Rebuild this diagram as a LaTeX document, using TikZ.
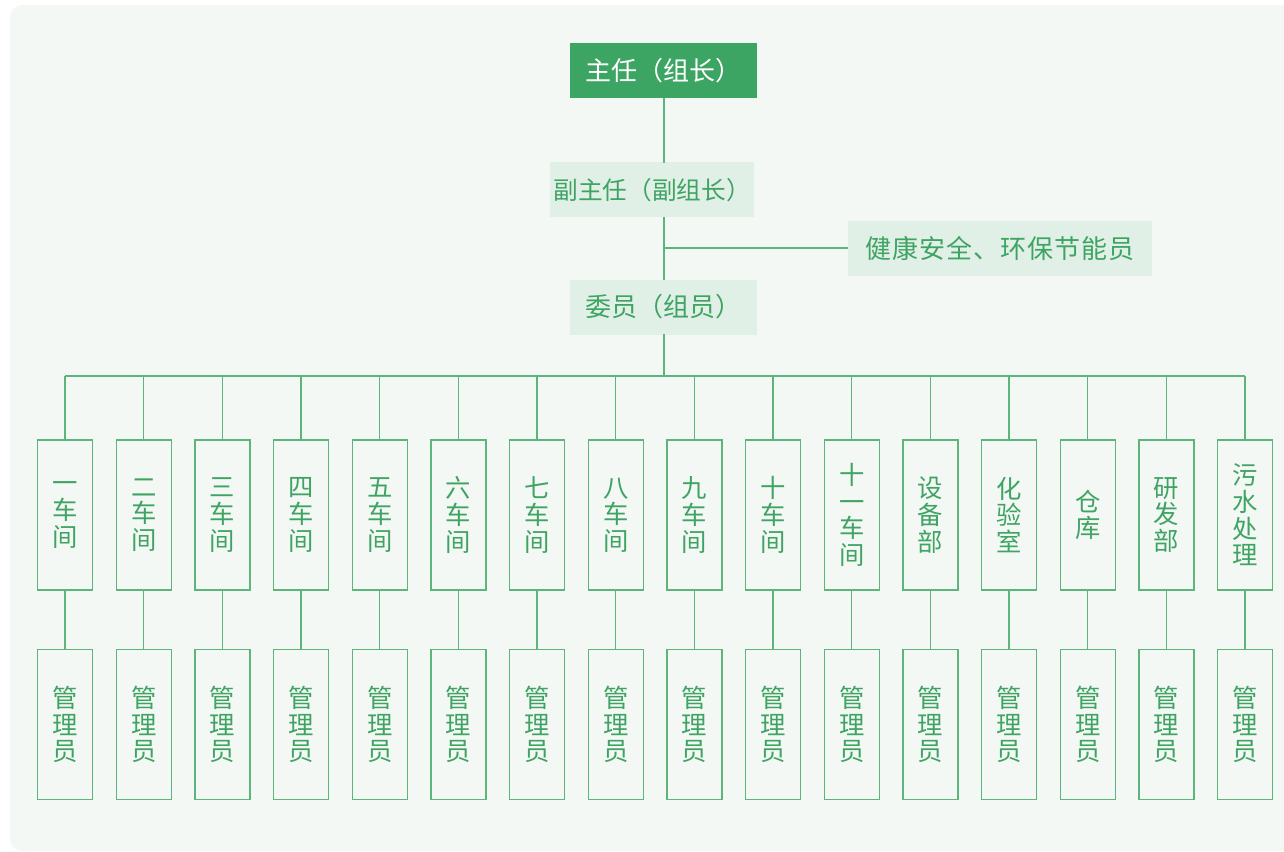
\documentclass[tikz,border=0pt]{standalone}
\usepackage{fontspec}
\newfontfamily\cjk{Noto Sans CJK SC}
\definecolor{bgc}{HTML}{F3F8F4}
\definecolor{dark}{HTML}{3DA563}
\definecolor{pale}{HTML}{E1F0E6}
\definecolor{txt}{HTML}{3FA363}
\definecolor{ln}{HTML}{5DB57C}
\begin{document}
\begin{tikzpicture}[x=0.75pt,y=-0.75pt,
  every node/.style={inner sep=0pt,outer sep=0pt,font=\cjk\fontsize{19.5}{20}\selectfont},
  topbox/.style={fill=dark,text=white,minimum width=187*0.75pt,minimum height=55*0.75pt},
  midbox/.style={fill=pale,text=txt,minimum height=55*0.75pt},
  colbox/.style={draw=ln,line width=1pt,text=txt,minimum width=55*0.75pt,minimum height=150*0.75pt,align=center,font=\cjk\fontsize{19}{20}\selectfont},
  conn/.style={draw=ln,line width=1pt}]
\useasboundingbox (0,0) rectangle (1284,852);
\fill[bgc,rounded corners=9pt] (10,5) rectangle (1310,851);
\node[topbox] (zr) at (663.5,70.5) {主任（组长）};
\node[midbox,minimum width=204*0.75pt] (fzr) at (652,190) {\makebox[0pt]{\fontsize{18.5}{20}\selectfont 副主任（副组长）}};
\node[midbox,minimum width=304*0.75pt] (jk) at (1000,248.5) {\makebox[0pt]{\addfontfeatures{LetterSpace=4}健康安全、环保节能员}};
\node[midbox,minimum width=187*0.75pt] (wy) at (663.5,307) {委员（组员）};
\coordinate (j1) at (664,248);
\coordinate (bus) at (664,376);
\draw[conn] (664,98) -- (664,163);
\draw[conn] (664,217) -- (664,280);
\draw[conn] (j1) -- (848,248);
\draw[conn] (664,334) -- (bus);
\foreach \i/\t in {0/{一\\车\\间},1/{二\\车\\间},2/{三\\车\\间},3/{四\\车\\间},4/{五\\车\\间},5/{六\\车\\间},6/{七\\车\\间},7/{八\\车\\间},8/{九\\车\\间},9/{十\\车\\间},10/{十\\一\\车\\间},11/{设\\备\\部},12/{化\\验\\室},13/{仓\\库},14/{研\\发\\部},15/{污\\水\\处\\理}}{
  \pgfmathsetmacro{\cx}{65+\i*78.67}
  \node[colbox] (u\i) at (\cx,515) {\t};
  \node[colbox] (l\i) at (\cx,724.5) {管\\理\\员};
  \draw[conn] (\cx,376) -- (u\i.north);
  \draw[conn] (u\i.south) -- (l\i.north);
}
\draw[conn] (65,376) -- (1245,376);
\end{tikzpicture}
\end{document}
